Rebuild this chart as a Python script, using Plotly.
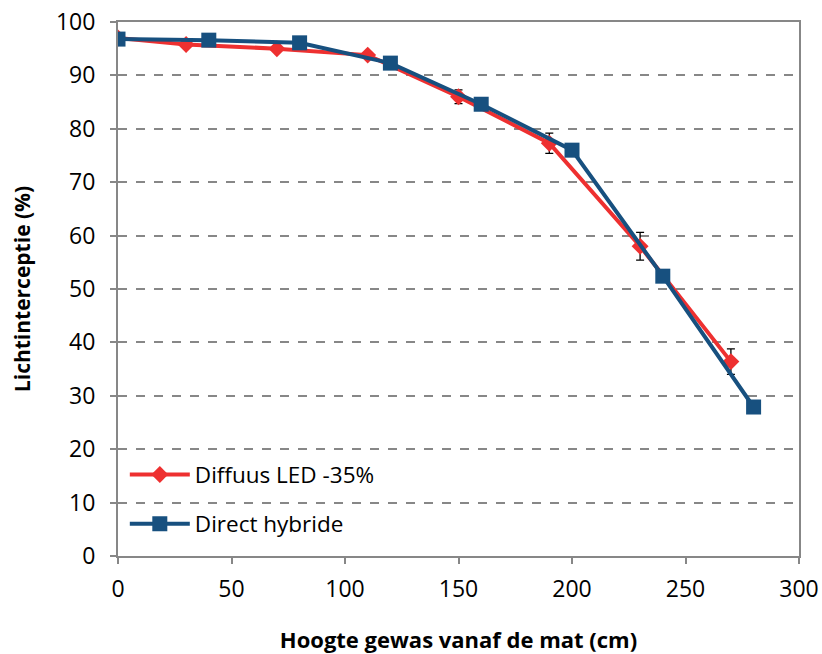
import plotly.graph_objects as go

# Light interception per crop height for the two lighting treatments
diffuus_hoogte = [0, 30, 70, 110, 150, 190, 230, 270]
diffuus_li = [97.0, 95.8, 95.0, 93.8, 86.0, 77.3, 58.0, 36.4]
diffuus_fout = [0.3, 0.3, 0.3, 0.3, 1.3, 1.9, 2.6, 2.4]

direct_hoogte = [0, 40, 80, 120, 160, 200, 240, 280]
direct_li = [96.8, 96.6, 96.1, 92.3, 84.6, 76.0, 52.4, 27.9]

x_ticks = [0, 50, 100, 150, 200, 250, 300]
y_ticks = [0, 10, 20, 30, 40, 50, 60, 70, 80, 90, 100]

RED = "#EE3030"
BLUE = "#17507F"
GRID = "#878787"
FONT = "Open Sans"

fig = go.Figure()

fig.add_trace(go.Scatter(
    x=diffuus_hoogte, y=diffuus_li, name="Diffuus LED -35%",
    mode="lines+markers", legendgroup="a",
    line=dict(color=RED, width=4),
    marker=dict(symbol="diamond", size=13, color=RED),
    error_y=dict(type="data", array=diffuus_fout, visible=True,
                 color="black", thickness=1.3, width=4),
))

fig.add_trace(go.Scatter(
    x=direct_hoogte, y=direct_li, name="Direct hybride",
    mode="lines+markers", legendgroup="b",
    line=dict(color=BLUE, width=4),
    marker=dict(symbol="square", size=15, color=BLUE),
))

fig.update_layout(
    width=822, height=654,
    margin=dict(l=118, r=23, t=22, b=98),
    paper_bgcolor="white", plot_bgcolor="white",
    font=dict(family=FONT, color="black", size=22),
    showlegend=True,
    legend=dict(
        x=0.01, y=0.02, xanchor="left", yanchor="bottom",
        bgcolor="rgba(0,0,0,0)", font=dict(size=22.5, family=FONT),
        itemwidth=60, tracegroupgap=17,
    ),
    xaxis=dict(
        range=[0, 300], tickvals=x_ticks, showgrid=False,
        showline=True, linecolor=GRID, linewidth=2, mirror=True,
        ticks="outside", ticklen=6, tickcolor=GRID, tickwidth=2,
        zeroline=False, ticklabelstandoff=5, automargin=False,
        tickfont=dict(size=23),
        title=dict(text="<b>Hoogte gewas vanaf de mat (cm)</b>",
                   font=dict(size=22), standoff=30),
    ),
    yaxis=dict(
        range=[0, 100], tickvals=y_ticks, showgrid=True,
        gridcolor=GRID, gridwidth=1.5, griddash="dash",
        showline=True, linecolor=GRID, linewidth=2, mirror=True,
        ticks="outside", ticklen=6, tickcolor=GRID, tickwidth=2,
        zeroline=False, ticklabelstandoff=10, automargin=False,
        tickfont=dict(size=23),
        title=dict(text="<b>Lichtinterceptie (%)</b>",
                   font=dict(size=21), standoff=20),
    ),
)

fig.write_html("out.html")
